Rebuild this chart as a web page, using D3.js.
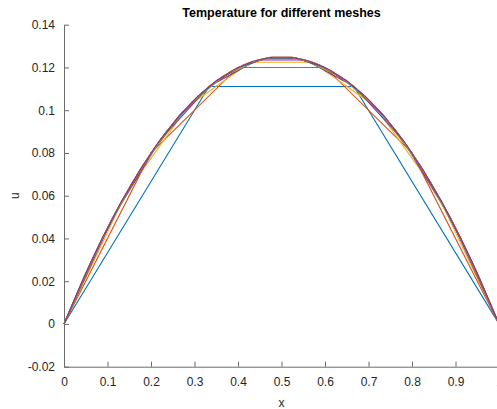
<!DOCTYPE html>
<html>
<head>
<meta charset="utf-8">
<script src="https://cdn.jsdelivr.net/npm/d3@7"></script>
<style>
  body { margin: 0; background: #fff; }
  text { font-family: "Liberation Sans", Arial, sans-serif; }
</style>
</head>
<body>
<div id="chart"></div>
<script>
// u values at the nodes of each mesh (nodes evenly spaced on [0,1])
var mesh3  = [0, 0.1111, 0.1111, 0];
var mesh5  = [0, 0.08, 0.12, 0.12, 0.08, 0];
var mesh7  = [0, 0.0612, 0.1020, 0.1224, 0.1224, 0.1020, 0.0612, 0];
var mesh9  = [0, 0.0494, 0.0864, 0.1111, 0.1235, 0.1235, 0.1111, 0.0864, 0.0494, 0];
var mesh11 = [0, 0.0413, 0.0744, 0.0992, 0.1157, 0.1240, 0.1240, 0.1157, 0.0992, 0.0744, 0.0413, 0];
var mesh13 = [0, 0.0355, 0.0651, 0.0888, 0.1065, 0.1183, 0.1243, 0.1243, 0.1183, 0.1065, 0.0888, 0.0651, 0.0355, 0];
var mesh15 = [0, 0.0311, 0.0578, 0.0800, 0.0978, 0.1111, 0.1200, 0.1244, 0.1244, 0.1200, 0.1111, 0.0978, 0.0800, 0.0578, 0.0311, 0];
var mesh17 = [0, 0.0277, 0.0519, 0.0727, 0.0900, 0.1038, 0.1142, 0.1211, 0.1246, 0.1246, 0.1211, 0.1142, 0.1038, 0.0900, 0.0727, 0.0519, 0.0277, 0];
var mesh19 = [0, 0.0249, 0.0471, 0.0665, 0.0831, 0.0970, 0.1080, 0.1163, 0.1219, 0.1247, 0.1247, 0.1219, 0.1163, 0.1080, 0.0970, 0.0831, 0.0665, 0.0471, 0.0249, 0];
var mesh21 = [0, 0.0227, 0.0431, 0.0612, 0.0771, 0.0907, 0.1020, 0.1111, 0.1179, 0.1224, 0.1247, 0.1247, 0.1224, 0.1179, 0.1111, 0.1020, 0.0907, 0.0771, 0.0612, 0.0431, 0.0227, 0];
var mesh23 = [0, 0.0208, 0.0397, 0.0567, 0.0718, 0.0851, 0.0964, 0.1059, 0.1134, 0.1191, 0.1229, 0.1248, 0.1248, 0.1229, 0.1191, 0.1134, 0.1059, 0.0964, 0.0851, 0.0718, 0.0567, 0.0397, 0.0208, 0];

var meshes = [mesh3, mesh5, mesh7, mesh9, mesh11, mesh13, mesh15, mesh17, mesh19, mesh21, mesh23];

var xTicks = [0, 0.1, 0.2, 0.3, 0.4, 0.5, 0.6, 0.7, 0.8, 0.9, 1];
var yTicks = [-0.02, 0, 0.02, 0.04, 0.06, 0.08, 0.1, 0.12, 0.14];

var colors = ['#0072BD', '#D95319', '#EDB120', '#7E2F8E', '#77AC30', '#4DBEEE', '#A2142F'];

var width = 497, height = 409;
var plotLeft = 64, plotRight = 499, plotTop = 24.7, plotBottom = 366.7;

var svg = d3.select('#chart')
  .append('svg')
  .attr('width', width)
  .attr('height', height);

var x = d3.scaleLinear().domain([0, 1]).range([plotLeft, plotRight]);
var y = d3.scaleLinear().domain([-0.02, 0.14]).range([plotBottom, plotTop]);

var line = d3.line()
  .x(function (d) { return x(d.x); })
  .y(function (d) { return y(d.u); });

meshes.forEach(function (vals, i) {
  var n = vals.length - 1;
  var pts = vals.map(function (u, k) { return { x: k / n, u: u }; });
  svg.append('path')
    .datum(pts)
    .attr('fill', 'none')
    .attr('stroke', colors[i % colors.length])
    .attr('stroke-width', 1.1)
    .attr('d', line);
});

var axisColor = '#6b6b6b';
var textColor = '#262626';

// x axis (ticks point inward)
var xAxis = svg.append('g')
  .attr('transform', 'translate(0,' + plotBottom + ')')
  .call(d3.axisBottom(x).tickValues(xTicks).tickSizeInner(-5).tickSizeOuter(0).tickPadding(11)
    .tickFormat(function (d) { return String(d); }));

// y axis
var yAxis = svg.append('g')
  .attr('transform', 'translate(' + plotLeft + ',0)')
  .call(d3.axisLeft(y).tickValues(yTicks).tickSizeInner(-5).tickSizeOuter(0).tickPadding(9)
    .tickFormat(function (d) { return String(+d.toFixed(2)); }));

[xAxis, yAxis].forEach(function (g) {
  g.select('.domain').attr('stroke', axisColor).attr('stroke-width', 1);
  g.selectAll('.tick line').attr('stroke', axisColor);
  g.selectAll('.tick text')
    .attr('fill', textColor)
    .style('font-size', '12px')
    .style('font-family', '"Liberation Sans", Arial, sans-serif');
});

svg.append('text')
  .attr('x', (plotLeft + plotRight) / 2)
  .attr('y', 17)
  .attr('text-anchor', 'middle')
  .attr('fill', '#000')
  .style('font-size', '12.5px')
  .style('font-weight', 'bold')
  .text('Temperature for different meshes');

svg.append('text')
  .attr('x', (plotLeft + plotRight) / 2)
  .attr('y', 407)
  .attr('text-anchor', 'middle')
  .attr('fill', textColor)
  .style('font-size', '12px')
  .text('x');

svg.append('text')
  .attr('transform', 'translate(19,' + (plotTop + plotBottom) / 2 + ') rotate(-90)')
  .attr('text-anchor', 'middle')
  .attr('fill', textColor)
  .style('font-size', '12px')
  .text('u');
</script>
</body>
</html>
